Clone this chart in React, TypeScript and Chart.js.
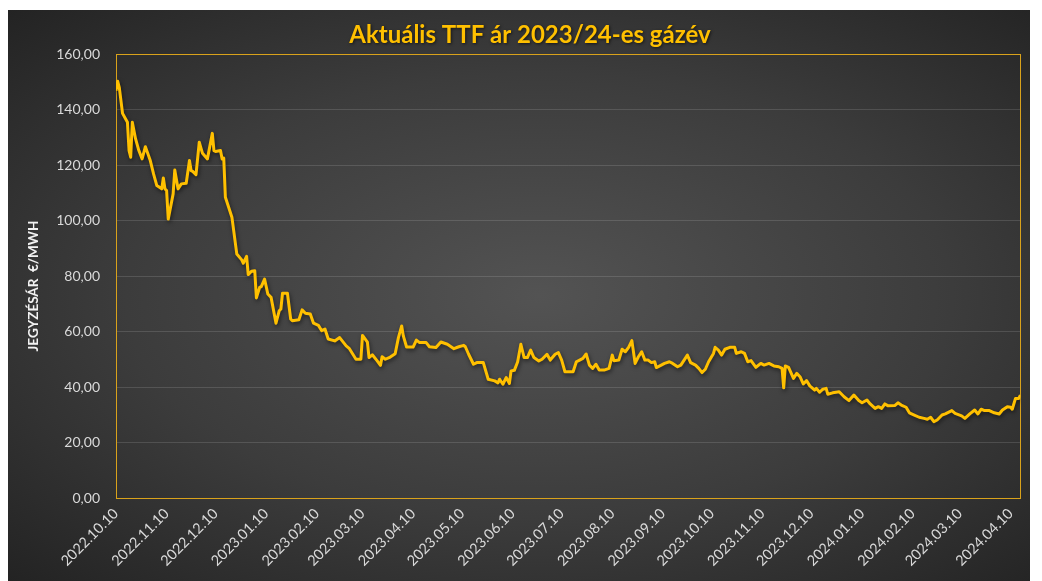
import React, { useEffect, useRef } from "react";
import { Chart, registerables } from "chart.js";

Chart.register(...registerables);

const chartTitle = "Aktuális TTF ár 2023/24-es gázév";
const yAxisTitle = "JEGYZÉSÁR  €/MWH";
const startDate = "2022-10-10";
const endDate = "2024-04-16";

const tickDates = [
  "2022-10-10", "2022-11-10", "2022-12-10", "2023-01-10", "2023-02-10", "2023-03-10",
  "2023-04-10", "2023-05-10", "2023-06-10", "2023-07-10", "2023-08-10", "2023-09-10",
  "2023-10-10", "2023-11-10", "2023-12-10", "2024-01-10", "2024-02-10", "2024-03-10",
  "2024-04-10",
];
const tickLabels = [
  "2022.10.10", "2022.11.10", "2022.12.10", "2023.01.10", "2023.02.10", "2023.03.10",
  "2023.04.10", "2023.05.10", "2023.06.10", "2023.07.10", "2023.08.10", "2023.09.10",
  "2023.10.10", "2023.11.10", "2023.12.10", "2024.01.10", "2024.02.10", "2024.03.10",
  "2024.04.10",
];
const yMin = 0;
const yMax = 160;
const yStep = 20;

const dates = [
  "2022-10-10", "2022-10-11", "2022-10-12", "2022-10-14", "2022-10-17", "2022-10-18", "2022-10-19", "2022-10-20",
  "2022-10-22", "2022-10-24", "2022-10-26", "2022-10-28", "2022-10-31", "2022-11-02", "2022-11-04", "2022-11-07",
  "2022-11-08", "2022-11-09", "2022-11-10", "2022-11-11", "2022-11-14", "2022-11-15", "2022-11-17", "2022-11-19",
  "2022-11-22", "2022-11-24", "2022-11-25", "2022-11-26", "2022-11-28", "2022-11-30", "2022-12-02", "2022-12-05",
  "2022-12-08", "2022-12-09", "2022-12-10", "2022-12-13", "2022-12-14", "2022-12-15", "2022-12-16", "2022-12-18",
  "2022-12-20", "2022-12-23", "2022-12-26", "2022-12-27", "2022-12-29", "2022-12-30", "2023-01-01", "2023-01-03",
  "2023-01-04", "2023-01-06", "2023-01-07", "2023-01-09", "2023-01-11", "2023-01-13", "2023-01-16", "2023-01-18",
  "2023-01-19", "2023-01-20", "2023-01-23", "2023-01-25", "2023-01-26", "2023-01-30", "2023-02-01", "2023-02-03",
  "2023-02-06", "2023-02-08", "2023-02-11", "2023-02-13", "2023-02-15", "2023-02-17", "2023-02-21", "2023-02-24",
  "2023-02-28", "2023-03-02", "2023-03-06", "2023-03-09", "2023-03-10", "2023-03-13", "2023-03-14", "2023-03-16",
  "2023-03-19", "2023-03-21", "2023-03-22", "2023-03-24", "2023-03-27", "2023-03-30", "2023-04-01", "2023-04-03",
  "2023-04-04", "2023-04-06", "2023-04-10", "2023-04-12", "2023-04-14", "2023-04-18", "2023-04-20", "2023-04-24",
  "2023-04-27", "2023-05-01", "2023-05-05", "2023-05-08", "2023-05-11", "2023-05-12", "2023-05-14", "2023-05-17",
  "2023-05-19", "2023-05-23", "2023-05-26", "2023-05-30", "2023-06-01", "2023-06-02", "2023-06-04", "2023-06-06",
  "2023-06-08", "2023-06-09", "2023-06-11", "2023-06-13", "2023-06-15", "2023-06-17", "2023-06-19", "2023-06-21",
  "2023-06-23", "2023-06-26", "2023-06-28", "2023-07-01", "2023-07-03", "2023-07-06", "2023-07-08", "2023-07-10",
  "2023-07-12", "2023-07-17", "2023-07-19", "2023-07-21", "2023-07-23", "2023-07-25", "2023-07-27", "2023-07-29",
  "2023-07-31", "2023-08-02", "2023-08-05", "2023-08-08", "2023-08-10", "2023-08-11", "2023-08-14", "2023-08-16",
  "2023-08-18", "2023-08-20", "2023-08-22", "2023-08-24", "2023-08-26", "2023-08-28", "2023-08-30", "2023-09-01",
  "2023-09-03", "2023-09-05", "2023-09-06", "2023-09-09", "2023-09-11", "2023-09-14", "2023-09-16", "2023-09-19",
  "2023-09-21", "2023-09-23", "2023-09-25", "2023-09-27", "2023-09-30", "2023-10-02", "2023-10-04", "2023-10-06",
  "2023-10-08", "2023-10-11", "2023-10-12", "2023-10-14", "2023-10-16", "2023-10-18", "2023-10-21", "2023-10-24",
  "2023-10-25", "2023-10-28", "2023-10-30", "2023-11-01", "2023-11-03", "2023-11-06", "2023-11-09", "2023-11-11",
  "2023-11-14", "2023-11-17", "2023-11-20", "2023-11-22", "2023-11-23", "2023-11-24", "2023-11-26", "2023-11-29",
  "2023-12-01", "2023-12-03", "2023-12-05", "2023-12-07", "2023-12-09", "2023-12-12", "2023-12-13", "2023-12-15",
  "2023-12-17", "2023-12-19", "2023-12-20", "2023-12-23", "2023-12-27", "2023-12-30", "2024-01-02", "2024-01-05",
  "2024-01-08", "2024-01-10", "2024-01-13", "2024-01-15", "2024-01-18", "2024-01-20", "2024-01-22", "2024-01-24",
  "2024-01-26", "2024-01-30", "2024-02-01", "2024-02-03", "2024-02-06", "2024-02-08", "2024-02-11", "2024-02-14",
  "2024-02-17", "2024-02-19", "2024-02-21", "2024-02-23", "2024-02-25", "2024-02-28", "2024-03-01", "2024-03-05",
  "2024-03-07", "2024-03-11", "2024-03-13", "2024-03-16", "2024-03-19", "2024-03-21", "2024-03-23", "2024-03-25",
  "2024-03-28", "2024-03-31", "2024-04-03", "2024-04-05", "2024-04-08", "2024-04-10", "2024-04-11", "2024-04-13",
  "2024-04-15", "2024-04-16",
];

const prices = [
  146.8, 150.2, 148, 138.6, 135.4, 125.2, 122.8, 135.4,
  129.4, 125.2, 122.2, 126.6, 121.6, 116.8, 112.6, 111.4,
  115.3, 111.4, 110.8, 100.5, 109.6, 118.2, 111.4, 113.2,
  113.4, 121.6, 118, 117.7, 116.5, 128.2, 124.2, 122.2,
  131.4, 125.2, 124.9, 125.2, 122.2, 122.5, 108.4, 104.8,
  101.2, 87.9, 85.8, 84.6, 87.1, 80.5, 81.7, 81.9,
  72.1, 75.9, 76.2, 78.9, 73.5, 72.3, 63, 67.5,
  68.1, 73.8, 73.8, 64.5, 63.9, 64.2, 67.8, 66.6,
  66.3, 63, 62.2, 60.3, 60.9, 57.3, 56.6, 57.8,
  54.8, 53.8, 50, 50, 58.6, 56.2, 50.6, 51.6,
  49.4, 47.8, 50.9, 50, 50.8, 52, 57.8, 62,
  58.4, 54.4, 54.4, 56.9, 56, 56, 54.5, 54.2,
  56.2, 55.4, 53.8, 54.5, 55, 54.5, 51.8, 48.2,
  48.8, 48.8, 42.8, 42.2, 41.5, 42.8, 41, 43.4,
  41.3, 45.8, 46, 49, 55.4, 50.6, 50.6, 53.3,
  50.6, 49.4, 50, 51.8, 49.7, 51.8, 52.4, 49.7,
  45.5, 45.5, 49.1, 49.7, 50.3, 51.9, 47.9, 46.7,
  48.2, 46.1, 46.1, 46.7, 51.5, 49.5, 49.7, 53.6,
  52.7, 54.3, 56.7, 48.5, 50.9, 52.7, 49.7, 49.7,
  48.8, 49.1, 47, 47.9, 48.5, 49.1, 48.5, 47.3,
  47.9, 49.7, 51.5, 48.8, 47.9, 46.7, 45.2, 46.4,
  49.1, 52.1, 54.3, 53.3, 51.5, 53.6, 54.3, 54.3,
  52.1, 52.7, 52.1, 49.1, 49.5, 47.1, 48.5, 47.9,
  48.5, 47.6, 47.3, 46.7, 39.7, 47.6, 47.1, 43.1,
  44.9, 43.7, 41.1, 42.3, 40.4, 38.9, 39.5, 38.1,
  39.2, 39.5, 37.4, 37.9, 38.3, 36.5, 35.1, 37.1,
  35.1, 34.3, 35.3, 33.9, 32.3, 32.9, 32.3, 33.9,
  33.2, 33.3, 34.3, 33.5, 32.7, 30.7, 29.9, 29.1,
  28.7, 28.4, 29.1, 27.5, 28.1, 29.9, 30.3, 31.5,
  30.5, 29.6, 28.7, 30.3, 31.7, 30.3, 32, 31.5,
  31.5, 30.7, 30.3, 31.7, 32.9, 32.7, 32, 35.9,
  35.9, 37.1,
];

const dayIndex = (s: string): number => {
  const [y, m, d] = s.split("-").map(Number);
  const [y0, m0, d0] = startDate.split("-").map(Number);
  return Math.round((Date.UTC(y, m - 1, d) - Date.UTC(y0, m0 - 1, d0)) / 86400000);
};

const CANVAS_W = 1022;
const CANVAS_H = 571;

export default function App() {
  const canvasRef = useRef<HTMLCanvasElement | null>(null);

  useEffect(() => {
    if (!canvasRef.current) return;
    const points = dates.map((d, i) => ({ x: dayIndex(d), y: prices[i] }));
    const tickDays = tickDates.map(dayIndex);

    const decorPlugin = {
      id: "decor",
      beforeDatasetsDraw(chart: any) {
        const { ctx, chartArea: a } = chart;
        ctx.save();
        ctx.strokeStyle = "#D9A21B";
        ctx.lineWidth = 1;
        ctx.strokeRect(
          Math.round(a.left) + 0.5,
          Math.round(a.top) + 0.5,
          Math.round(a.right - a.left),
          Math.round(a.bottom - a.top)
        );
        ctx.restore();
      },
      beforeDatasetDraw(chart: any) {
        const ctx = chart.ctx;
        ctx.save();
        ctx.shadowColor = "rgba(0,0,0,0.55)";
        ctx.shadowBlur = 4;
        ctx.shadowOffsetX = 1;
        ctx.shadowOffsetY = 2;
      },
      afterDatasetDraw(chart: any) {
        chart.ctx.restore();
      },
      afterDraw(chart: any) {
        const { ctx } = chart;
        ctx.save();
        // chart title
        ctx.font = "bold 24px Lato, 'Open Sans', sans-serif";
        ctx.fillStyle = "#FFC000";
        ctx.textAlign = "center";
        ctx.textBaseline = "middle";
        ctx.shadowColor = "rgba(0,0,0,0.6)";
        ctx.shadowBlur = 3;
        ctx.shadowOffsetX = 1;
        ctx.shadowOffsetY = 1;
        ctx.fillText(chartTitle, chart.width / 2 + 11, 25);
        ctx.shadowColor = "transparent";
        // y axis title
        ctx.font = "bold 13.5px Lato, 'Open Sans', sans-serif";
        ctx.fillStyle = "#F2F2F2";
        ctx.translate(26, 276);
        ctx.rotate(-Math.PI / 2);
        ctx.fillText(yAxisTitle, 0, 0);
        ctx.restore();
      },
    };

    const chart = new Chart(canvasRef.current, {
      type: "line",
      data: {
        datasets: [
          {
            data: points,
            borderColor: "#FFC000",
            borderWidth: 3,
            pointRadius: 0,
            pointHoverRadius: 0,
            tension: 0,
            fill: false,
            borderJoinStyle: "round",
          },
        ],
      },
      options: {
        responsive: false,
        animation: false,
        parsing: true,
        layout: { padding: { top: 44, left: 0, right: 9, bottom: 0 } },
        plugins: {
          legend: { display: false },
          title: { display: false },
          tooltip: { enabled: false },
        },
        scales: {
          x: {
            type: "linear",
            min: 0,
            max: dayIndex(endDate),
            grid: { display: false, drawTicks: false },
            border: { display: false },
            afterBuildTicks: (scale: any) => {
              scale.ticks = tickDays.map((v) => ({ value: v }));
            },
            afterFit: (scale: any) => {
              scale.height = 83;
            },
            ticks: {
              autoSkip: false,
              maxRotation: 45,
              minRotation: 45,
              padding: 7,
              color: "#D9D9D9",
              font: { family: "Lato, 'Open Sans', sans-serif", size: 14.5 },
              callback: (_v: any, i: number) => tickLabels[i],
            },
          },
          y: {
            min: yMin,
            max: yMax,
            grid: { color: "rgba(255,255,255,0.13)", lineWidth: 1, drawTicks: false },
            border: { display: false },
            afterFit: (scale: any) => {
              scale.width = 108;
            },
            ticks: {
              stepSize: yStep,
              padding: 16,
              color: "#D9D9D9",
              font: { family: "Lato, 'Open Sans', sans-serif", size: 14 },
              callback: (v: any) => Number(v).toFixed(2).replace(".", ","),
            },
          },
        },
      },
      plugins: [decorPlugin],
    } as any);

    return () => chart.destroy();
  }, []);

  return (
    <div style={{ paddingTop: 2 }}>
      <div
        style={{
          width: CANVAS_W,
          height: CANVAS_H,
          background: "radial-gradient(ellipse at 52% 50%, #535353 0%, #3c3c3c 55%, #232323 100%)",
        }}
      >
        <canvas ref={canvasRef} width={CANVAS_W} height={CANVAS_H} style={{ display: "block" }} />
      </div>
    </div>
  );
}
